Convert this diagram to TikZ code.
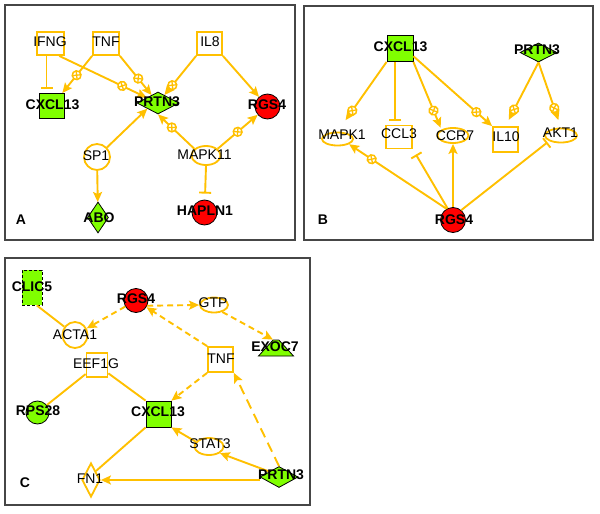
\documentclass[tikz,border=0pt]{standalone}
\usepackage{fontspec}
\setmainfont{Liberation Sans}
\usetikzlibrary{shapes.geometric,shapes.misc,arrows.meta,decorations.markings,calc}
\definecolor{ora}{RGB}{255,192,0}
\definecolor{grn}{RGB}{128,255,0}
\definecolor{rd}{RGB}{255,0,0}
\definecolor{pfr}{RGB}{70,70,70}
\newcommand\mymk{%
  \draw[-,shorten >=0pt,shorten <=0pt,solid,draw=ora,fill=white,line width=1.5pt] (0,0) circle (4.4pt);
  \draw[-,shorten >=0pt,shorten <=0pt,solid,draw=ora,line width=1.3pt] (-2.7pt,-2.7pt)--(2.7pt,2.7pt) (-2.7pt,2.7pt)--(2.7pt,-2.7pt);}
\begin{document}
\begin{tikzpicture}[x=1pt,y=-1pt,
  lbl/.style={font=\fontsize{14}{14}\selectfont, inner sep=0pt, text=black},
  blbl/.style={font=\fontsize{14}{14}\selectfont\bfseries, inner sep=0pt, text=black},
  obox/.style={rectangle, draw=ora, line width=1.8pt, inner sep=0pt},
  oell/.style={ellipse, draw=ora, line width=1.8pt, inner sep=0pt},
  gsq/.style={rectangle, draw=black, fill=grn, line width=0.8pt, inner sep=0pt},
  gdia/.style={diamond, draw=black, fill=grn, line width=0.8pt, inner sep=0pt},
  rcirc/.style={circle, draw=black, fill=rd, line width=0.8pt, inner sep=0pt},
  lin/.style={draw=ora, line width=1.9pt},
  act/.style={lin, -{Stealth[length=10pt,width=9pt,inset=2pt]}},
  inh/.style={lin, -{Bar[width=12pt]}, shorten >=4pt},
  dsh/.style={dash pattern=on 6pt off 4pt},
  dshl/.style={dash pattern=on 10pt off 6pt},
  mk/.style={postaction={decorate}, decoration={markings, mark=at position #1 with {\mymk}}},
  pframe/.style={draw=pfr, line width=1.3pt}
]
\useasboundingbox (0,0) rectangle (600,514);
\fill[white] (0,0) rectangle (600,514);
% frames
\draw[pframe] (5,5) rectangle (295,240);
\draw[pframe] (304,6) rectangle (593,240);
\draw[pframe] (5,258) rectangle (310,505);

% ---------- Panel A shapes
\node[obox, minimum width=27pt, minimum height=23pt] (ifngA) at (50.5,43.5) {};
\node[obox, minimum width=26pt, minimum height=23pt] (tnfA) at (106,43.5) {};
\node[obox, minimum width=25pt, minimum height=23pt] (il8A) at (209.5,43.5) {};
\node[gsq, minimum width=25pt, minimum height=25pt] (cxclA) at (52,106) {};
\node[gdia, minimum width=42pt, minimum height=22pt] (prtnA) at (158,103) {};
\node[rcirc, minimum size=25pt] (rgsA) at (267.5,106.5) {};
\node[oell, minimum width=26pt, minimum height=26pt] (sp1) at (97,157) {};
\node[oell, minimum width=29pt, minimum height=19pt] (mapk11) at (206,155.5) {};
\node[gdia, minimum width=21pt, minimum height=31pt] (abo) at (98,217.5) {};
\node[rcirc, minimum size=25pt] (hapln1) at (204.5,212.5) {};

% ---------- Panel B shapes
\node[gsq, minimum width=26pt, minimum height=26pt] (cxclB) at (400,48.5) {};
\node[gdia, minimum width=37pt, minimum height=19pt] (prtnB) at (538.5,52.5) {};
\node[oell, minimum width=31pt, minimum height=13pt] (mapk1) at (337.5,139) {};
\node[obox, minimum width=26pt, minimum height=23pt] (ccl3) at (399,137) {};
\node[oell, minimum width=31pt, minimum height=15pt] (ccr7) at (453,135.5) {};
\node[obox, minimum width=25pt, minimum height=25pt] (il10) at (505.5,139.5) {};
\node[oell, minimum width=32pt, minimum height=14pt] (akt1) at (561,135.5) {};
\node[rcirc, minimum size=25pt] (rgsB) at (453,220) {};

% ---------- Panel C shapes
\node[rectangle, fill=grn, draw=black, line width=0.8pt, dash pattern=on 3pt off 2pt, inner sep=0pt,
      minimum width=20pt, minimum height=35pt] (clic5) at (32,287.5) {};
\node[rcirc, minimum size=24pt] (rgsC) at (136,300.5) {};
\node[oell, minimum width=28pt, minimum height=15pt] (gtp) at (214,305) {};
\node[oell, minimum width=25pt, minimum height=26pt] (acta1) at (75,335) {};
\node[trapezium, trapezium left angle=70, trapezium right angle=70, trapezium stretches=true,
      draw=black, fill=grn, line width=0.8pt, inner sep=1pt,
      minimum width=35pt, minimum height=16pt] (exoc7) at (276,348) {\strut};
\node[chamfered rectangle, chamfered rectangle xsep=3pt, chamfered rectangle ysep=4pt,
      draw=ora, line width=1.8pt, inner sep=0pt, minimum width=21pt, minimum height=24pt] (eef1g) at (97,365) {};
\node[obox, minimum width=25pt, minimum height=25pt] (tnfC) at (220.5,359.5) {};
\node[circle, draw=black, fill=grn, line width=0.8pt, inner sep=0pt, minimum size=23pt] (rps28) at (37.5,412.5) {};
\node[gsq, minimum width=25pt, minimum height=26pt] (cxclC) at (158.5,414) {};
\node[oell, minimum width=29pt, minimum height=17pt] (stat3) at (209,446.5) {};
\node[gdia, minimum width=38pt, minimum height=21pt] (prtnC) at (279,477) {};
\node[diamond, draw=ora, line width=1.8pt, inner sep=0pt, minimum width=18pt, minimum height=34pt] (fn1) at (91,480) {};

% ---------- Panel A edges
\draw[inh] ([xshift=-4pt]ifngA.south) -- ([xshift=-4pt]ifngA.south |- cxclA.north);
\draw[act, mk=0.52] (tnfA.south west) -- (cxclA);
\draw[act, mk=0.72] (ifngA.-55) -- (prtnA);
\draw[act, mk=0.58] (tnfA.south east) -- (prtnA);
\draw[act, mk=0.75] (il8A.south west) -- (prtnA);
\draw[act] (il8A.south east) -- (rgsA);
\draw[act] (sp1) -- (prtnA.south west);
\draw[act, mk=0.62] (mapk11.150) -- (prtnA.south);
\draw[act, mk=0.5] (mapk11.30) -- (rgsA);
\draw[inh, shorten >=6pt] (mapk11.south) -- (hapln1);
\draw[act] (sp1) -- (abo);

% ---------- Panel B edges
\draw[act, mk=0.7, shorten >=14pt] (cxclB.south west) -- (mapk1.north);
\draw[inh] ([xshift=-5pt]cxclB.south) -- ([xshift=-4pt]ccl3.north);
\draw[act, mk=0.72, shorten >=2pt] (cxclB.south east) -- (ccr7.north west);
\draw[act, mk=0.8] (cxclB.-30) -- (il10.north west);
\draw[act, mk=0.74, shorten >=7pt] (prtnB.south) -- (il10.north);
\draw[act, mk=0.7, shorten >=8pt] (prtnB.south) -- (akt1.north);
\draw[act, mk=0.77] (rgsB.120) -- (mapk1.south east);
\draw[inh, shorten >=6pt] (rgsB.115) -- (ccl3.south east);
\draw[act] (rgsB.north) -- (ccr7.south);
\draw[inh, shorten >=2pt] (rgsB.50) -- (akt1.south west);

% ---------- Panel C edges
\draw[lin] (clic5.-75) -- (acta1);
\draw[act, dsh] (rgsC) -- (acta1);
\draw[act, dsh] (rgsC.-25) -- (gtp.west);
\draw[act, dsh] (tnfC.north west) -- (rgsC);
\draw[act, dsh] (gtp.-40) -- (exoc7.top left corner);
\draw[lin] (eef1g) -- (rps28);
\draw[lin] (eef1g) -- (cxclC.north west);
\draw[act, dsh] (tnfC.south west) -- (cxclC.north east);
\draw[act, dshl] (prtnC.north) -- (tnfC.south east);
\draw[act] (prtnC.north west) -- (stat3.south east);
\draw[act] (stat3.160) -- (cxclC.south east);
\draw[lin] (cxclC.south west) -- (fn1.north east);
\draw[act] (prtnC.west |- fn1.east) -- (fn1.east);

% ---------- Labels A
\node[lbl] (tIFNG) at (50,42) {IFNG};
\node[lbl] (tTNFa) at (106,42) {TNF};
\node[lbl] (tIL8) at (210,42) {IL8};
\node[blbl] (tCXa) at (52.5,104.5) {CXCL13};
\node[blbl] (tPRa) at (157,101.5) {PRTN3};
\node[blbl] (tRGa) at (267,105) {RGS4};
\node[lbl] (tSP1) at (96,156) {SP1};
\node[lbl] (tMAPK11) at (204.5,154.5) {MAPK11};
\node[blbl] (tABO) at (99,218) {ABO};
\node[blbl] (tHAP) at (205,211) {HAPLN1};
\node[blbl] (tA) at (21,220) {A};

% ---------- Labels B
\node[blbl] (tCXb) at (400.5,47) {CXCL13};
\node[blbl] (tPRb) at (537,50) {PRTN3};
\node[lbl] (tMAPK1) at (342,135) {MAPK1};
\node[lbl] (tCCL3) at (399,134) {CCL3};
\node[lbl] (tCCR7) at (455,136) {CCR7};
\node[lbl] (tIL10) at (506,137) {IL10};
\node[lbl] (tAKT1) at (560.5,133) {AKT1};
\node[blbl] (tRGb) at (454,220) {RGS4};
\node[blbl] (tB) at (323,220) {B};

% ---------- Labels C
\node[blbl] (tCLIC5) at (32,287) {CLIC5};
\node[blbl] (tRGc) at (136,299) {RGS4};
\node[lbl] (tGTP) at (213,303) {GTP};
\node[lbl] (tACTA1) at (75,335) {ACTA1};
\node[blbl] (tEXOC7) at (275,347) {EXOC7};
\node[lbl] (tEEF1G) at (96,364) {EEF1G};
\node[lbl] (tTNFc) at (221,359) {TNF};
\node[blbl] (tRPS28) at (38,411) {RPS28};
\node[blbl] (tCXc) at (158,412) {CXCL13};
\node[lbl] (tSTAT3) at (210,444) {STAT3};
\node[blbl] (tPRc) at (281,475) {PRTN3};
\node[lbl] (tFN1) at (90,479) {FN1};
\node[blbl] (tC) at (25,483) {C};
\end{tikzpicture}
\end{document}
